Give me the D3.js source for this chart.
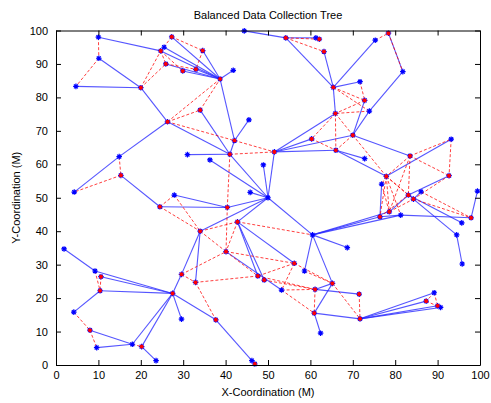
<!DOCTYPE html>
<html>
<head>
<meta charset="utf-8">
<script src="https://cdn.jsdelivr.net/npm/d3@7"></script>
<style>
  body { margin: 0; background: #fff; }
  svg { font-family: "Liberation Sans", Arial, sans-serif; }
  .axis text { font-size: 11px; fill: #000; }
  .axis path, .axis line { stroke: #000; }
</style>
</head>
<body>
<svg id="tree" width="491" height="403"></svg>
<script>
// node positions (x, y in metres)
const nodeNames = [
  "sink","A","B","C","D","E","F","G","H","I","J","K","L","M","N","O","P","Q","R","S","T","U","V","W","X","Y","Z","m1",
  "a1","a2","a3","a4","a5","a6","a7","a8","a9","a10","a11","a12","a13","a14","a15","a16","a17","a18","a19","a20","a21","a22",
  "b0","b1","b2","b3","b4","b5","b6","b7","b8","b9","b10",
  "c1","c2","c3","c4","c5","c6","c7","c8","c9","c10","c11","c12","c13","d1","d2","d3","d4",
  "s1","s2","e1","e2","e3","e4","e5","e6","e7","e8","e9","e10","e11","e12","e13","e14","e15","e16","e17","e18","e19","e20"
];
const nodeX = [
  50,10,10.1,4.7,20,27.3,25.5,24.7,34.6,25.9,29.9,33,38.7,41.8,34,26.3,42.1,45.5,14.9,15.3,4.3,31,41,36.3,44.4,27.9,45.8,48.9,
  54.2,61.3,62.1,63.2,75.3,78.4,81.8,65.4,71.7,72.8,73.9,65.9,70,60.3,51.5,66,72.8,83.5,93.2,92.7,77.9,99.4,
  76.8,76.4,78.6,81.3,83.1,84.3,97.9,95.7,94.5,95.8,86.1,
  60.5,68.7,56.2,58.6,47.6,49.1,53.2,61.1,65.2,71.5,60.9,62.4,71.7,89.2,87.3,90,90.7,
  24.5,40.4,42.8,34,40.1,1.9,9.2,10.6,29.6,32.9,27.5,10.4,4.2,29.6,37.7,8,9.6,18,20.2,23.6,46.2,46.9
];
const nodeY = [
  50,98,91.7,83.3,82.9,98.1,95,93.9,94,90,87.9,88.4,85.5,88.1,76.2,72.7,67.1,73.3,62.3,56.7,51.7,62.9,63,61.3,99.9,50.8,51.6,59.8,
  97.8,97.8,97.4,93.7,97.1,99.2,87.7,83,84.7,79.1,75.9,75.2,68.7,67.6,63.7,64.2,61.7,62.5,67.5,56.6,56.4,52,
  54.1,44.3,45.8,44.8,50.8,49.6,44,42.5,38.9,30.2,51.8,
  38.9,35.1,30.4,28.1,26.6,25.4,22.4,22.6,24.4,21.2,15.5,9.5,13.8,21.6,19.1,17.7,17.2,
  47.3,47.1,42.8,40,33.9,34.7,28.1,26.4,27.1,24.7,21.4,22.2,15.8,13.7,13.5,10.4,5.2,6.2,5.5,1.3,1.3,0.3
];
// cluster heads get a red marker
const heads = ["D","E","G","H","I","J","K","L","N","O","P","S","V",
  "a1","a3","a4","a6","a8","a10","a12","a13","a14","a15","a16","a18","a20","a21",
  "b1","b2","b4","b5","b6","c3","c5","c6","c8","c9","c10","c11","c13","d2","d3",
  "s1","s2","e1","e2","e3","e6","e7","e8","e9","e10","e13","e14","e17","e20"];

// tree links (solid blue)
const treeLinks = [
  ["A","G"],["B","D"],["C","D"],["D","O"],["O","R"],["R","T"],["O","V"],["E","L"],["F","L"],["G","L"],["H","L"],
  ["I","L"],["J","L"],["K","L"],["M","L"],["L","P"],["Q","P"],["P","V"],["N","V"],["U","V"],["V","sink"],["W","sink"],
  ["Z","sink"],["m1","sink"],["X","a1"],
  ["a1","a2"],["a2","a3"],["a1","a8"],["a4","a8"],["a5","a8"],["a6","a7"],["a7","a11"],["a8","a9"],["a8","a12"],
  ["a12","a15"],["a10","a13"],["a11","a13"],["a15","a14"],["a15","a13"],["a15","a16"],["a16","a17"],["a16","a21"],
  ["a13","a18"],["a21","a19"],["a15","sink"],
  ["b0","b1"],["b1","b3"],["b3","b6"],["b6","a22"],["a20","b4"],["b4","b2"],["b4","b7"],["b5","b8"],["b8","b9"],
  ["b10","b5"],["b1","c1"],["b2","c1"],["b3","c1"],["c1","sink"],
  ["S","s1"],["s1","s2"],["Y","s2"],["s2","sink"],["e2","sink"],["e1","sink"],["e1","c5"],["e1","c6"],["e1","c3"],
  ["e3","c7"],["c1","c2"],["c1","c4"],["c1","c9"],["c9","c8"],["c8","c10"],["c9","c11"],["c11","c12"],["c11","c13"],
  ["c13","d1"],["c13","d2"],["c13","d3"],["c13","d4"],
  ["e4","e5"],["e5","e9"],["e6","e9"],["e10","e9"],["e10","e11"],["e14","e16"],["e15","e16"],["e16","e9"],["e17","e9"],
  ["e17","e18"],["e9","e12"],["e9","e7"],["e7","e2"],["e2","e8"],["e9","e13"],["e13","e19"],["e19","e20"]
];
// neighbour links (red dashed)
const neighbourLinks = [
  ["A","B"],["B","C"],["E","G"],["E","H"],["G","J"],["G","I"],["I","K"],["H","K"],["D","G"],["D","I"],["O","L"],["N","L"],
  ["O","N"],["O","P"],["P","a15"],["V","a15"],["V","s2"],["S","T"],["R","S"],
  ["a1","a3"],["a1","a4"],["a5","a6"],["a6","a7"],["a8","a10"],["a8","a11"],["a9","a10"],["a10","a12"],["a11","a12"],
  ["a12","a13"],["a12","a14"],["a12","a16"],["a13","a16"],["a13","a21"],["a18","a21"],["a18","a19"],["a18","a20"],
  ["a19","a20"],["a14","a16"],
  ["a21","b1"],["a21","b2"],["a21","b3"],["a21","b4"],["a21","b5"],["a21","b0"],["a20","b5"],["a18","b4"],["a18","b2"],
  ["b5","b6"],["b10","b6"],["b0","b2"],["b1","b4"],["b2","b5"],
  ["s1","Y"],["s1","e2"],["Y","e2"],["s2","e3"],["e2","e1"],["e2","e3"],["e1","e3"],["e1","c1"],["e3","c5"],["e3","c3"],
  ["c3","c5"],["c5","c8"],["c7","c8"],["c3","c7"],["c4","c9"],["c3","c9"],["c8","c11"],["c7","c11"],["c9","c13"],
  ["c10","c13"],["c6","c8"],["e8","c5"],["e8","e13"],["e7","e8"],["e7","e3"],
  ["e5","e10"],["e6","e10"],["e11","e14"],["e14","e15"],["e16","e17"],["d1","d2"],["d1","d3"],["d2","d4"]
];
const xTicks = d3.range(0, 101, 10);
const yTicks = d3.range(0, 101, 10);

const svg = d3.select("#tree");
const margin = { top: 30.5, right: 11, bottom: 38, left: 56 };
const width = 491 - margin.left - margin.right;
const height = 403 - margin.top - margin.bottom;

const x = d3.scaleLinear().domain([0, 100]).range([0, width]);
const y = d3.scaleLinear().domain([0, 100]).range([height, 0]);

const g = svg.append("g").attr("transform", `translate(${margin.left},${margin.top})`);

const nodes = {};
nodeNames.forEach((n, i) => { nodes[n] = { x: nodeX[i], y: nodeY[i] }; });

// blue tree links
g.selectAll(".tree-link")
  .data(treeLinks)
  .enter()
  .append("line")
  .attr("class", "tree-link")
  .attr("x1", d => x(nodes[d[0]].x))
  .attr("y1", d => y(nodes[d[0]].y))
  .attr("x2", d => x(nodes[d[1]].x))
  .attr("y2", d => y(nodes[d[1]].y))
  .attr("stroke", "#2a2aff")
  .attr("stroke-opacity", 0.8)
  .attr("stroke-width", 1.1);

// red dashed links
g.selectAll(".nb-link")
  .data(neighbourLinks)
  .enter()
  .append("line")
  .attr("class", "nb-link")
  .attr("x1", d => x(nodes[d[0]].x))
  .attr("y1", d => y(nodes[d[0]].y))
  .attr("x2", d => x(nodes[d[1]].x))
  .attr("y2", d => y(nodes[d[1]].y))
  .attr("stroke", "#ff0000")
  .attr("stroke-opacity", 0.75)
  .attr("stroke-width", 1)
  .attr("stroke-dasharray", "3,2");

// asterisk marker
function star(sel, color, r) {
  sel.append("path")
    .attr("d", `M${-r},0H${r}M0,${-r}V${r}M${-r*0.7},${-r*0.7}L${r*0.7},${r*0.7}M${-r*0.7},${r*0.7}L${r*0.7},${-r*0.7}`)
    .attr("stroke", color)
    .attr("stroke-width", 1.2)
    .attr("fill", "none");
}

g.selectAll(".node")
  .data(nodeNames)
  .enter()
  .append("g")
  .attr("class", "node")
  .attr("transform", d => `translate(${x(nodes[d].x)},${y(nodes[d].y)})`)
  .call(star, "#0000ff", 2.8);

g.selectAll(".head")
  .data(heads)
  .enter()
  .append("g")
  .attr("class", "head")
  .attr("transform", d => `translate(${x(nodes[d].x)},${y(nodes[d].y)})`)
  .call(star, "#ff0000", 2);

// axes with inward ticks on all four sides
g.append("g")
  .attr("class", "axis")
  .attr("transform", `translate(0,${height})`)
  .call(d3.axisBottom(x).tickValues(xTicks).tickSizeInner(-5).tickSizeOuter(0).tickPadding(6));

g.append("g")
  .attr("class", "axis")
  .call(d3.axisLeft(y).tickValues(yTicks).tickSizeInner(-5).tickSizeOuter(0).tickPadding(8));

g.append("g")
  .attr("class", "axis")
  .call(d3.axisTop(x).tickValues(xTicks).tickSizeInner(-5).tickSizeOuter(0).tickFormat(""));

g.append("g")
  .attr("class", "axis")
  .attr("transform", `translate(${width},0)`)
  .call(d3.axisRight(y).tickValues(yTicks).tickSizeInner(-5).tickSizeOuter(0).tickFormat(""));

// titles
svg.append("text")
  .attr("x", margin.left + width / 2)
  .attr("y", 19)
  .attr("text-anchor", "middle")
  .style("font-size", "11px")
  .text("Balanced Data Collection Tree");

svg.append("text")
  .attr("x", margin.left + width / 2)
  .attr("y", 396)
  .attr("text-anchor", "middle")
  .style("font-size", "11px")
  .text("X-Coordination (M)");

svg.append("text")
  .attr("transform", `translate(20,${margin.top + height / 2}) rotate(-90)`)
  .attr("text-anchor", "middle")
  .style("font-size", "11px")
  .text("Y-Coordination (M)");
</script>
</body>
</html>
